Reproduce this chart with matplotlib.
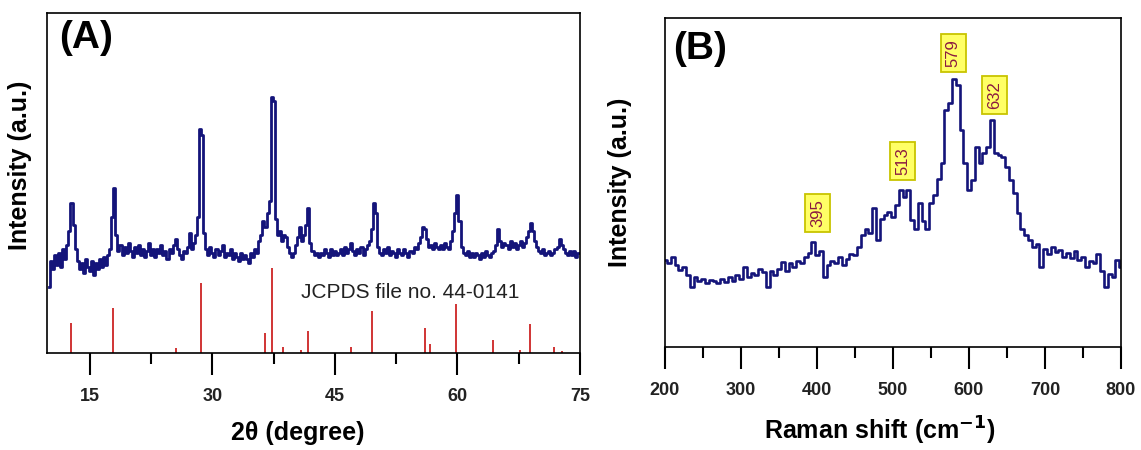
import numpy as np
import matplotlib
matplotlib.use("Agg")
import matplotlib.pyplot as plt

plt.rcParams["font.family"] = ["Liberation Sans", "DejaVu Sans"]

# ---------- (A) XRD ----------
two_theta = np.arange(10.0, 75.0 + 0.125, 0.25)
xrd = [
    66, 92, 84, 98,      88, 100, 86, 104,    94, 108, 122, 150,   128, 104, 92, 84,
    90, 80, 94, 86,      82, 92, 78, 90,      84, 94, 86, 96,      88, 98, 104, 136,
    165, 118, 102, 108,  98, 106, 100, 110,   102, 96, 106, 100,   108, 98, 104, 96,
    102, 110, 98, 104,   96, 104, 100, 108,   98, 102, 94, 104,    100, 108, 114, 104,
    98, 94, 102, 100,    106, 120, 104, 110,  118, 136, 224, 218,  120, 104, 98, 106,
    100, 96, 104, 98,    102, 108, 96, 100,   98, 104, 94, 100,    96, 92, 100, 94,
    98, 94, 90, 100,     96, 104, 100, 112,   118, 132, 126, 140,  152, 256, 252, 134,
    118, 122, 112, 118,  116, 106, 100, 96,   100, 108, 116, 126,  112, 118, 128, 145,
    110, 102, 98, 100,   96, 100, 98, 104,    100, 96, 104, 98,    102, 98, 100, 104,
    98, 106, 100, 104,   110, 102, 98, 104,   100, 106, 98, 104,   108, 112, 124, 150,
    140, 106, 100, 98,   104, 100, 106, 98,   102, 100, 96, 104,   100, 98, 104, 100,
    96, 102, 100, 106,   104, 110, 116, 126,  124, 114, 106, 108,  104, 110, 106, 104,
    108, 104, 110, 106,  104, 112, 122, 140,  158, 132, 106, 100,  98, 102, 96, 100,
    96, 100, 98, 94,     100, 96, 102, 98,    96, 100, 102, 108,   124, 112, 106, 110,
    108, 104, 112, 106,  110, 104, 108, 112,  106, 110, 116, 122,  130, 122, 112, 106,
    102, 100, 104, 98,   100, 102, 98, 100,   104, 106, 114, 108,  104, 100, 98, 102,
    98, 102, 96, 100,    100,
]

# JCPDS 44-0141 reference lines
ref_pos = [12.74, 17.8, 25.5, 28.65, 36.4, 37.3, 38.7, 40.9, 41.75, 47.0,
           49.5, 56.05, 56.6, 59.85, 64.4, 67.6, 68.85, 71.85, 72.8]
ref_int = [30, 45, 5, 70, 20, 85, 6, 3, 22, 6,
           42, 25, 9, 49, 13, 3, 29, 6, 2]

# ---------- (B) Raman ----------
raman_x = np.arange(200, 801, 5)
raman_y = [
    87, 84, 90, 82, 77, 80, 72, 60, 70, 66,
    68, 64, 67, 66, 64, 68, 65, 70, 66, 72,
    68, 80, 70, 74, 72, 78, 75, 60, 76, 72,
    78, 85, 76, 84, 80, 86, 84, 90, 94, 105,
    92, 96, 70, 82, 86, 84, 90, 82, 88, 93,
    92, 100, 112, 118, 114, 139, 107, 128, 132, 135,
    130, 142, 157, 150, 157, 127, 118, 144, 126, 118,
    144, 152, 168, 184, 237, 244, 268, 262, 217, 184,
    157, 167, 200, 184, 194, 200, 227, 194, 192, 190,
    180, 167, 154, 134, 118, 112, 107, 100, 103, 80,
    98, 93, 100, 95, 97, 90, 94, 89, 96, 87,
    90, 80, 86, 84, 93, 76, 60, 73, 70, 87,
    80,
]
peak_labels = ["395", "513", "579", "632"]
peak_x = [401, 513, 579, 634]
peak_box_y = [134, 186, 294, 252]

NAVY = "#14147a"
RED = "#d03434"

fig = plt.figure(figsize=(11.41, 4.5), dpi=100)
axA = fig.add_axes([47 / 1141, 1 - 353 / 450, 533 / 1141, 340 / 450])
axB = fig.add_axes([665 / 1141, 1 - 347 / 450, 456 / 1141, 329 / 450])

axA.plot(two_theta, xrd, color=NAVY, lw=2.0, drawstyle="steps-mid")
axA.vlines(ref_pos, 0, ref_int, color=RED, lw=1.4)
axA.text(40.9, 61, "JCPDS file no. 44-0141", fontsize=15, color="#222222",
         va="center", ha="left")
axA.set_xlim(9.75, 75)
axA.set_ylim(0, 340)
axA.set_xticks([15, 30, 45, 60, 75])
axA.set_xticks([22.5, 37.5, 52.5, 67.5], minor=True)
axA.set_xlabel("2θ (degree)", fontsize=18, fontweight="bold")
axA.xaxis.set_label_coords(0.47, -0.2)
axA.set_ylabel("Intensity (a.u.)", fontsize=18, fontweight="bold")
axA.yaxis.set_label_coords(-0.028, 0.553)
axA.text(0.022, 0.98, "(A)", transform=axA.transAxes, fontsize=28,
         fontweight="bold", va="top", ha="left")

axB.plot(raman_x, raman_y, color=NAVY, lw=1.9, drawstyle="steps-mid")
for lab, px, py in zip(peak_labels, peak_x, peak_box_y):
    axB.text(px, py, lab, rotation=90, fontsize=12, color="#8b1a40",
             ha="center", va="center",
             bbox=dict(boxstyle="square,pad=0.3", fc="#ffff66", ec="#c8c400", lw=1.3))
axB.set_xlim(200, 800)
axB.set_ylim(0, 329)
axB.set_xticks(np.arange(200, 801, 100))
axB.set_xticks(np.arange(250, 800, 100), minor=True)
axB.set_xlabel("Raman shift (cm$^{\\mathbf{-1}}$)", fontsize=18, fontweight="bold")
axB.xaxis.set_label_coords(0.47, -0.205)
axB.set_ylabel("Intensity (a.u.)", fontsize=18, fontweight="bold")
axB.yaxis.set_label_coords(-0.072, 0.5)
axB.text(0.018, 0.96, "(B)", transform=axB.transAxes, fontsize=28,
         fontweight="bold", va="top", ha="left")

for ax in (axA, axB):
    ax.set_yticks([])
    for sp in ax.spines.values():
        sp.set_linewidth(1.2)
    ax.tick_params(axis="x", which="major", direction="out", length=16, width=1.5,
                   pad=9, labelsize=13)
    ax.tick_params(axis="x", which="minor", direction="out", length=8, width=1.5)
    for lbl in ax.get_xticklabels():
        lbl.set_fontweight("bold")
        lbl.set_color("#222222")

fig.savefig("out.png", dpi=100)
